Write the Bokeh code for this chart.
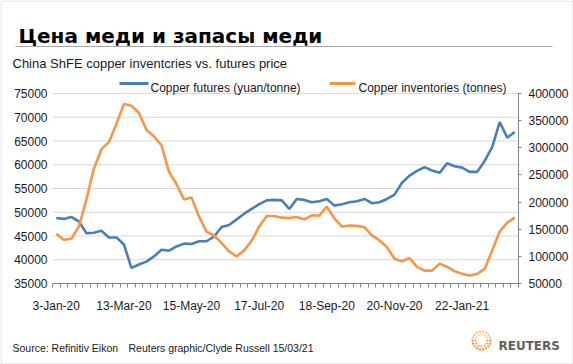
import math
from bokeh.plotting import figure
from bokeh.models import LinearAxis, Range1d, FixedTicker, Label, BoxAnnotation, BasicTickFormatter
from bokeh.embed import file_html
from bokeh.resources import INLINE

# ---------------- data ----------------
futures = [48800, 48600, 49000, 48100, 45600, 45700, 46100, 44700, 44700, 43200,
           38300, 39000, 39600, 40700, 42100, 41900, 42800, 43400, 43300, 43900,
           43900, 44900, 46900, 47300, 48500, 49700, 50700, 51700, 52500, 52600,
           52500, 50700, 52800, 52600, 52100, 52300, 52800, 51400, 51700, 52100,
           52300, 52800, 51900, 52100, 52800, 53700, 56200, 57700, 58700, 59500,
           58800, 58300, 60300, 59700, 59400, 58500, 58500, 60800, 63700, 69000,
           65700, 66900]
inventories = [141500, 130500, 132300, 154900, 203700, 261600, 297000, 310400, 343900, 380500,
               377400, 364000, 332900, 321300, 304300, 255500, 232900, 204900, 208500, 173200,
               145700, 138400, 124400, 109100, 100000, 111000, 128700, 154900, 174400, 174400,
               171300, 170700, 172600, 168300, 175600, 175000, 191500, 170100, 154900, 156700,
               156100, 153700, 138400, 129300, 117100, 95700, 90900, 97000, 80500, 73800,
               73800, 86600, 80500, 72600, 67700, 64600, 67700, 76800, 111000, 145700,
               162200, 171300]
week_index = list(range(len(futures)))
tick_positions = [0, 9, 18, 27, 36, 45, 54]
tick_labels = ["3-Jan-20", "13-Mar-20", "15-May-20", "17-Jul-20", "18-Sep-20", "20-Nov-20", "22-Jan-21"]
left_ticks = [35000, 40000, 45000, 50000, 55000, 60000, 65000, 70000, 75000]
right_ticks = [50000, 100000, 150000, 200000, 250000, 300000, 350000, 400000]

title_text = "Цена меди и запасы меди"
subtitle_text = "China ShFE copper inventcries vs. futures price"
legend_labels = ["Copper futures (yuan/tonne)", "Copper inventories (tonnes)"]
source_text = "Source: Refinitiv Eikon"
credit_text = "Reuters graphic/Clyde Russell 15/03/21"

# ---------------- layout ----------------
W, H = 573, 364
PL, PR, PT, PB = 52, 518, 93, 283          # plot area in canvas pixels (y down)
BLUE = "#4a7ebb"
ORANGE = "#f79646"
AXIS = "#868686"
FONT = "Liberation Sans"

n = len(futures)
x_lo, x_hi = -0.5, n - 0.5
kx = (PR - PL) / (x_hi - x_lo)
yl_lo, yl_hi = left_ticks[0], left_ticks[-1]
ky = (PB - PT) / (yl_hi - yl_lo)
yr_lo, yr_hi = right_ticks[0], right_ticks[-1]
kr = (PB - PT) / (yr_hi - yr_lo)

p = figure(width=W, height=H, output_backend="svg", toolbar_location=None,
           x_range=Range1d(x_lo - PL / kx, x_hi + (W - PR) / kx),
           y_range=Range1d(yl_lo - (H - PB) / ky, yl_hi + PT / ky),
           min_border=0, min_border_left=0, min_border_right=0,
           min_border_top=0, min_border_bottom=0)
p.extra_y_ranges = {"inv": Range1d(yr_lo - (H - PB) / kr, yr_hi + PT / kr)}
p.outline_line_color = None
p.background_fill_color = "white"
p.border_fill_color = "white"
p.xgrid.visible = False
p.ygrid.visible = False

# horizontal gridlines at left-axis ticks, limited to the plot area
p.segment(x0=[x_lo] * len(left_ticks), x1=[x_hi] * len(left_ticks), y0=left_ticks, y1=left_ticks,
          line_color="#d9d9d9", line_width=1)

xa = p.xaxis[0]
xa.fixed_location = yl_lo
xa.bounds = (x_lo, x_hi)
xa.ticker = FixedTicker(ticks=tick_positions, minor_ticks=[i - 0.5 for i in range(n + 1)])
xa.major_label_overrides = {t: l for t, l in zip(tick_positions, tick_labels)}
xa.axis_line_color = AXIS
xa.major_tick_line_color = None
xa.major_tick_out = 0
xa.major_tick_in = 0
xa.minor_tick_line_color = AXIS
xa.minor_tick_out = 4
xa.minor_tick_in = 0
xa.major_label_standoff = 11
xa.major_label_text_font = FONT
xa.major_label_text_font_size = "12px"
xa.major_label_text_color = "#1a1a1a"

ya = p.yaxis[0]
ya.fixed_location = x_lo
ya.bounds = (yl_lo, yl_hi)
ya.ticker = FixedTicker(ticks=left_ticks)
ya.formatter = BasicTickFormatter(use_scientific=False)
ya.axis_line_color = None
ya.major_tick_line_color = None
ya.minor_tick_line_color = None
ya.major_tick_out = 0
ya.major_tick_in = 0
ya.major_label_standoff = 5
ya.major_label_text_font = FONT
ya.major_label_text_font_size = "12px"
ya.major_label_text_color = "#1a1a1a"

ra = LinearAxis(y_range_name="inv", ticker=FixedTicker(ticks=right_ticks),
                formatter=BasicTickFormatter(use_scientific=False))
ra.fixed_location = x_hi
ra.bounds = (yr_lo, yr_hi)
ra.axis_line_color = AXIS
ra.major_tick_line_color = AXIS
ra.major_tick_out = 3
ra.major_tick_in = 0
ra.minor_tick_line_color = None
ra.major_label_standoff = 7
ra.major_label_text_font = FONT
ra.major_label_text_font_size = "12px"
ra.major_label_text_color = "#1a1a1a"
p.add_layout(ra, "right")

p.line(week_index, futures, line_color=BLUE, line_width=2.6)
p.line(week_index, inventories, y_range_name="inv", line_color=ORANGE, line_width=2.6)

# screen helpers: canvas coords (top-left origin) -> screen units (bottom-left origin)
def sx(X):
    return X

def sy(Y):
    return H - Y

def label(X, Y, text, size, font=FONT, style="normal", color="#1a1a1a", baseline="alphabetic", align="left"):
    p.add_layout(Label(x=sx(X), y=sy(Y), x_units="screen", y_units="screen", text=text,
                       text_font=font, text_font_size=size, text_font_style=style,
                       text_color=color, text_baseline=baseline, text_align=align))

def box(X0, Y0, X1, Y1, color, line=None):
    p.add_layout(BoxAnnotation(left=sx(X0), right=sx(X1), top=sy(Y0), bottom=sy(Y1),
                               left_units="screen", right_units="screen",
                               top_units="screen", bottom_units="screen",
                               fill_color=color if color else "white", fill_alpha=1.0 if color else 0,
                               line_color=line, line_width=1))

# canvas border
box(0.5, 0.5, W - 0.5, H - 0.5, None, line="#8c8c8c")

label(18, 35, title_text, "20px", font="DejaVu Sans", style="bold", color="#000000")
box(15, 45.5, 552, 46.5, "#a6a6a6")
label(12, 63, subtitle_text, "13px")

# legend
box(119, 81.5, 148, 84.5, BLUE)
label(150, 87, legend_labels[0], "12px")
box(329, 81.5, 355, 84.5, ORANGE)
label(358, 87, legend_labels[1], "12px")

# footer
label(12, 347, source_text, "10.5px")
label(128, 347, credit_text, "10.5px")

# Reuters logo (decorative ring of dots)
cx, cy = 481, 340
for r, m, sz in [(9, 18, 2.2), (6, 12, 1.8)]:
    for k in range(m):
        a = 2 * math.pi * k / m
        col = "#f59a3c" if (k / m < 0.55) else "#fbc58f"
        x = cx + r * math.cos(a)
        y = cy + r * math.sin(a)
        box(x - sz / 2, y - sz / 2, x + sz / 2, y + sz / 2, col)
label(498, 345, "REUTERS", "12px", font="DejaVu Sans", style="bold", color="#5f5f5f")

open("out.html", "w").write(file_html(p, INLINE))
